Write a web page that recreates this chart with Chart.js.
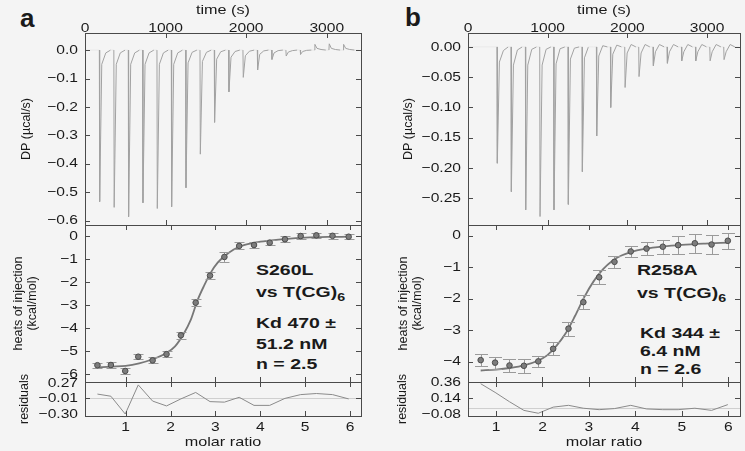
<!DOCTYPE html>
<html>
<head>
<meta charset="utf-8">
<script src="https://cdn.jsdelivr.net/npm/chart.js@4.4.1/dist/chart.umd.min.js"></script>
<style>
  body { margin: 0; background: #f4f4f4; width: 745px; height: 451px; position: relative; overflow: hidden;
         font-family: "Liberation Sans", Arial, sans-serif; color: #1a1a1a; }
  .box { position: absolute; }
  .tag { position: absolute; font-weight: bold; font-size: 26px; line-height: 26px; }
  .note { position: absolute; font-weight: bold; font-size: 15px; line-height: 15px; white-space: nowrap;
          transform: scaleX(1.3); transform-origin: 0 0; }
  .note sub { font-size: 11px; vertical-align: -4px; line-height: 0; }
</style>
</head>
<body>
<div class="tag" style="left:20px;top:5px">a</div>
<div class="tag" style="left:405px;top:4px">b</div>

<div class="note" style="left:256px;top:262px">S260L</div>
<div class="note" style="left:256px;top:284px">vs T(CG)<sub>6</sub></div>
<div class="note" style="left:256px;top:315px">Kd 470 ±</div>
<div class="note" style="left:256px;top:336px">51.2 nM</div>
<div class="note" style="left:256px;top:356px">n = 2.5</div>

<div class="note" style="left:637px;top:262px">R258A</div>
<div class="note" style="left:637px;top:285px">vs T(CG)<sub>6</sub></div>
<div class="note" style="left:640px;top:325px">Kd 344 ±</div>
<div class="note" style="left:640px;top:343px">6.4 nM</div>
<div class="note" style="left:640px;top:361px">n = 2.6</div>

<script>
// ---- 読み取ったデータ ----

// 上段: サーモグラム (注入時刻 s, ピーク値, 戻り途中の値, 落ち着いた値)
const injTimeA = [178, 358, 537, 715, 893, 1071, 1249, 1427, 1604, 1782, 1960, 2138, 2316, 2493, 2671, 2849, 3027, 3205];
const peakA    = [-0.533, -0.553, -0.586, -0.537, -0.557, -0.551, -0.484, -0.366, -0.254, -0.147, -0.096, -0.070, -0.033, -0.021, -0.015, 0.020, 0.022, 0.020];
const recoverA = [-0.05, -0.05, -0.05, -0.05, -0.05, -0.05, -0.045, -0.04, -0.032, -0.025, -0.02, -0.015, -0.01, -0.007, -0.005, 0.006, 0.006, 0.006];
const settleA  = [-0.01, -0.01, -0.01, -0.01, -0.01, -0.01, -0.008, -0.008, -0.006, -0.005, -0.004, -0.003, -0.002, -0.002, -0.001, 0.002, 0.002, 0.002];

const injTimeB = [364, 540, 720, 900, 1075, 1255, 1431, 1611, 1787, 1967, 2142, 2322, 2498, 2678, 2854, 3034, 3209];
const peakB    = [-0.192, -0.239, -0.269, -0.280, -0.269, -0.260, -0.206, -0.147, -0.100, -0.067, -0.049, -0.031, -0.027, -0.023, -0.023, -0.023, -0.021];
const recoverB = [-0.025, -0.03, -0.03, -0.03, -0.028, -0.02, -0.018, -0.015, -0.012, -0.01, -0.01, -0.008, -0.008, -0.008, -0.008, -0.008, -0.008];
const settleB  = [-0.006, -0.005, -0.004, -0.004, -0.003, -0.002, 0.0, 0.002, 0.003, 0.004, 0.004, 0.004, 0.004, 0.004, 0.004, 0.004, 0.004];

// 中段: 注入熱 (kcal/mol) と誤差
const molarA = [0.37, 0.67, 0.99, 1.28, 1.60, 1.91, 2.23, 2.56, 2.88, 3.20, 3.53, 3.86, 4.21, 4.55, 4.90, 5.25, 5.61, 5.97];
const heatA  = [-5.62, -5.61, -5.87, -5.25, -5.41, -5.14, -4.32, -2.90, -1.72, -0.91, -0.43, -0.39, -0.29, -0.14, 0.0, 0.03, 0.01, -0.03];
const errA   = [0.11, 0.11, 0.12, 0.12, 0.13, 0.13, 0.14, 0.15, 0.17, 0.2, 0.15, 0.12, 0.12, 0.12, 0.12, 0.12, 0.12, 0.12];
const fitXA  = [0.37, 0.7, 1.0, 1.3, 1.6, 1.9, 2.1, 2.3, 2.45, 2.6, 2.75, 2.9, 3.05, 3.2, 3.4, 3.6, 3.9, 4.2, 4.6, 5.0, 5.5, 5.97];
const fitYA  = [-5.71, -5.68, -5.65, -5.54, -5.36, -5.1, -4.8, -4.23, -3.65, -2.8, -2.15, -1.58, -1.16, -0.88, -0.6, -0.42, -0.28, -0.2, -0.12, -0.07, -0.04, -0.03];

const molarB = [0.67, 0.98, 1.29, 1.60, 1.91, 2.23, 2.56, 2.88, 3.22, 3.55, 3.90, 4.24, 4.59, 4.92, 5.28, 5.64, 5.99];
const heatB  = [-3.95, -4.03, -4.12, -4.13, -3.99, -3.59, -2.95, -2.11, -1.32, -0.83, -0.50, -0.41, -0.35, -0.30, -0.24, -0.28, -0.16];
const errB   = [0.2, 0.19, 0.2, 0.22, 0.18, 0.2, 0.22, 0.22, 0.22, 0.2, 0.17, 0.2, 0.22, 0.28, 0.3, 0.3, 0.25];
const fitXB  = [0.67, 1.0, 1.3, 1.6, 1.9, 2.1, 2.3, 2.5, 2.7, 2.9, 3.1, 3.3, 3.5, 3.7, 3.9, 4.2, 4.6, 5.0, 5.5, 6.0];
const fitYB  = [-4.28, -4.25, -4.2, -4.12, -3.97, -3.8, -3.5, -3.1, -2.55, -1.95, -1.45, -1.07, -0.8, -0.63, -0.52, -0.42, -0.34, -0.29, -0.25, -0.22];

// 下段: 残差
const resA = [0.07, 0.03, -0.30, 0.24, -0.06, -0.15, -0.02, 0.10, -0.07, -0.08, 0.01, -0.14, -0.14, -0.01, 0.06, 0.08, 0.06, -0.02];
const resB = [0.34, 0.22, 0.09, -0.03, -0.07, 0.015, 0.04, 0.0, -0.02, -0.005, 0.04, -0.01, -0.02, -0.02, 0.0, -0.03, 0.05];

// 目盛り
const timeTicks  = [0, 1000, 2000, 3000];
const molarTicks = [1, 2, 3, 4, 5, 6];
const dpTicksA   = [0, -0.1, -0.2, -0.3, -0.4, -0.5, -0.6];
const dpTicksB   = [0, -0.05, -0.1, -0.15, -0.2, -0.25];
const heatTicksA = [0, -1, -2, -3, -4, -5, -6];
const heatTicksB = [0, -1, -2, -3, -4];
const resTicksA  = [0.27, -0.01, -0.30];
const resTicksB  = [0.36, 0.14, -0.08];

// ---- 共通設定 ----
Chart.defaults.font.family = '"Liberation Sans", Arial, sans-serif';
Chart.defaults.font.size = 13;
Chart.defaults.color = '#1a1a1a';
Chart.defaults.animation = false;
Chart.defaults.plugins.legend.display = false;
Chart.defaults.plugins.tooltip.enabled = false;

const INK = '#4a4a4a';
const TEXT_SX = 1.2; // 横書き文字の横伸ばし

// 枠・内向き目盛り・ゼロ線
const framePlugin = {
  id: 'frame',
  beforeDatasetsDraw(chart, args, o) {
    if (!o.zero) return;
    const {ctx, chartArea: a, scales: {y}} = chart;
    const py = Math.round(y.getPixelForValue(0)) + 0.5;
    ctx.save();
    ctx.strokeStyle = '#cfcfcf';
    ctx.lineWidth = 1;
    ctx.beginPath(); ctx.moveTo(a.left, py); ctx.lineTo(a.right, py); ctx.stroke();
    ctx.restore();
  },
  afterDraw(chart) {
    const {ctx, chartArea: a, scales: {x, y}} = chart;
    ctx.save();
    ctx.strokeStyle = INK;
    ctx.lineWidth = 1;
    ctx.strokeRect(a.left + 0.5, a.top + 0.5, a.right - a.left, a.bottom - a.top);
    ctx.beginPath();
    x.ticks.forEach(t => {
      const px = Math.round(x.getPixelForValue(t.value)) + 0.5;
      if (px < a.left + 2 || px > a.right - 2) return;
      ctx.moveTo(px, a.top); ctx.lineTo(px, a.top + 5);
      ctx.moveTo(px, a.bottom); ctx.lineTo(px, a.bottom - 5);
    });
    y.ticks.forEach(t => {
      const py = Math.round(y.getPixelForValue(t.value)) + 0.5;
      if (py < a.top + 2 || py > a.bottom - 2) return;
      ctx.moveTo(a.left, py); ctx.lineTo(a.left + 5, py);
      ctx.moveTo(a.right, py); ctx.lineTo(a.right - 5, py);
    });
    ctx.stroke();
    ctx.restore();
  }
};

// エラーバー (点の下に描く)
const errPlugin = {
  id: 'errBars',
  beforeDatasetDraw(chart, args) {
    const ds = chart.data.datasets[args.index];
    if (!ds.errs) return;
    const {ctx, scales: {x, y}} = chart;
    ctx.save();
    ctx.strokeStyle = '#9a9a9a';
    ctx.lineWidth = 1;
    ctx.beginPath();
    ds.data.forEach((p, i) => {
      const px = Math.round(x.getPixelForValue(p.x)) + 0.5;
      const y1 = Math.round(y.getPixelForValue(p.y + ds.errs[i])) + 0.5;
      const y2 = Math.round(y.getPixelForValue(p.y - ds.errs[i])) + 0.5;
      ctx.moveTo(px, y1); ctx.lineTo(px, y2);
      ctx.moveTo(px - ds.cap, y1); ctx.lineTo(px + ds.cap, y1);
      ctx.moveTo(px - ds.cap, y2); ctx.lineTo(px + ds.cap, y2);
    });
    ctx.stroke();
    ctx.restore();
  }
};

// 横書きの文字だけ横に伸ばす
const stretchPlugin = {
  id: 'stretchText',
  afterInit(chart) {
    const ctx = chart.ctx;
    const orig = ctx.fillText;
    ctx.fillText = function (t, x, y) {
      const m = this.getTransform();
      if (Math.abs(m.b) > 1e-6) return orig.call(this, t, x, y);
      this.save();
      this.translate(x, y);
      this.scale(TEXT_SX, 1);
      orig.call(this, t, 0, 0);
      this.restore();
    };
  }
};

Chart.register(framePlugin, errPlugin, stretchPlugin);

// ---- ヘルパー ----
const minus = s => s.replace('-', '\u2212');
const fmt = d => v => Math.abs(v) < 1e-9 ? (0).toFixed(d) : minus(v.toFixed(d));
const fixedTicks = list => s => { s.ticks = list.map(v => ({value: v})); };
const zip = (xs, ys) => xs.map((x, i) => ({x, y: ys[i]}));

function trace(times, peaks, rec, settle) {
  const pts = [{x: 0, y: 0}];
  times.forEach((t, i) => {
    pts.push({x: t, y: 0}, {x: t + 4, y: peaks[i]}, {x: t + 30, y: rec[i]},
             {x: t + 80, y: settle[i]}, {x: t + 140, y: 0});
  });
  pts.push({x: 3400, y: 0});
  return pts;
}

function yAxis(min, max, ticks, dec, w, title, tpad, lh) {
  return {
    type: 'linear', position: 'left', min, max,
    afterBuildTicks: fixedTicks(ticks),
    afterFit: s => { s.width = w; s.paddingTop = 0; s.paddingBottom = 0; },
    grid: {display: false, drawTicks: false},
    border: {display: false},
    ticks: {padding: 7, autoSkip: false, callback: fmt(dec)},
    title: {display: true, text: title, padding: {top: tpad, bottom: 0}, font: {size: 12.5, lineHeight: lh || 1.2}}
  };
}

function timeAxis(max) {
  return {
    type: 'linear', position: 'top', min: 0, max,
    afterBuildTicks: fixedTicks(timeTicks),
    afterFit: s => { s.height = 33; s.paddingLeft = 0; s.paddingRight = 0; },
    grid: {display: false, drawTicks: false},
    border: {display: false},
    ticks: {padding: -3, autoSkip: false, maxRotation: 0, callback: v => String(v)},
    title: {display: true, text: 'time (s)', padding: {top: 2, bottom: 0}, font: {size: 13.5}}
  };
}

function molarAxis(min, max, show) {
  return {
    type: 'linear', position: 'bottom', min, max,
    afterBuildTicks: fixedTicks(molarTicks),
    afterFit: s => { s.height = show ? 35 : 0; s.paddingLeft = 0; s.paddingRight = 0; },
    grid: {display: false, drawTicks: false},
    border: {display: false},
    ticks: {display: show, padding: 4, autoSkip: false, maxRotation: 0, callback: v => String(v)},
    title: {display: show, text: 'molar ratio', padding: {top: 0, bottom: 1}, font: {size: 13.5}}
  };
}

function plot(rect, yW, topH, botH, cfg) {
  const m = 10;
  const div = document.createElement('div');
  div.className = 'box';
  div.style.left = (rect.l - yW) + 'px';
  div.style.top = (rect.t - topH - m) + 'px';
  div.style.width = (rect.r - rect.l + yW + 4) + 'px';
  div.style.height = (rect.b - rect.t + topH + botH + 2 * m) + 'px';
  const c = document.createElement('canvas');
  div.appendChild(c);
  document.body.appendChild(div);
  cfg.options.responsive = true;
  cfg.options.maintainAspectRatio = false;
  cfg.options.layout = {autoPadding: false, padding: {left: 0, right: 4, top: m, bottom: m}};
  return new Chart(c, cfg);
}

// 基線 (0 → 0 の区間) はほとんど見えない色にする
const faintBaseline = c => (c.p0.parsed.y === 0 && c.p1.parsed.y === 0) ? '#e9e9e9' : undefined;

function thermo(rect, yW, tmax, data, ymin, ymax, ticks, dec, tpad) {
  plot(rect, yW, 33, 0, {
    type: 'line',
    data: {datasets: [{data, borderColor: '#a2a2a2', borderWidth: 1, pointRadius: 0, tension: 0,
                       segment: {borderColor: faintBaseline}}]},
    options: {scales: {x: timeAxis(tmax), y: yAxis(ymin, ymax, ticks, dec, yW, 'DP (µcal/s)', tpad)}}
  });
}

function heats(rect, yW, xmin, xmax, mx, hy, errs, cap, fx, fy, ymin, ymax, ticks, tpad) {
  plot(rect, yW, 0, 0, {
    type: 'line',
    data: {datasets: [
      {data: zip(mx, hy), errs, cap, showLine: false, pointRadius: 2.8, pointBackgroundColor: '#7c7c7c',
       pointBorderColor: '#4c4c4c', pointBorderWidth: 1},
      {data: zip(fx, fy), borderColor: '#777777', borderWidth: 1.8, pointRadius: 0,
       tension: 0.4, cubicInterpolationMode: 'monotone'}
    ]},
    options: {scales: {x: molarAxis(xmin, xmax, false),
                       y: yAxis(ymin, ymax, ticks, 0, yW, ['heats of injection', '(kcal/mol)'], tpad, 1.15)}}
  });
}

function resid(rect, yW, xmin, xmax, mx, rs, ymin, ymax, ticks, tpad) {
  plot(rect, yW, 0, 35, {
    type: 'line',
    data: {datasets: [{data: zip(mx, rs), borderColor: '#8a8a8a', borderWidth: 1, pointRadius: 0, tension: 0}]},
    options: {
      plugins: {frame: {zero: true}},
      scales: {x: molarAxis(xmin, xmax, true), y: yAxis(ymin, ymax, ticks, 2, yW, 'residuals', tpad)}
    }
  });
}

// ---- パネル a ----
thermo({l: 85, t: 33, r: 361, b: 225}, 85, 3425, trace(injTimeA, peakA, recoverA, settleA),
       -0.615, 0.06, dpTicksA, 1, 19.5);
heats({l: 85, t: 225, r: 361, b: 382}, 85, 0.093, 6.245, molarA, heatA, errA, 5, fitXA, fitYA,
      -6.35, 0.48, heatTicksA, 11);
resid({l: 85, t: 382, r: 361, b: 416}, 85, 0.093, 6.245, molarA, resA, -0.337, 0.294, resTicksA, 17.5);

// ---- パネル b ----
thermo({l: 468, t: 33, r: 740, b: 225}, 98, 3413, trace(injTimeB, peakB, recoverB, settleB),
       -0.294, 0.023, dpTicksB, 2, 31.5);
heats({l: 468, t: 225, r: 740, b: 382}, 98, 0.397, 6.252, molarB, heatB, errB, 6.5, fitXB, fitYB,
      -4.645, 0.34, heatTicksB, 26);
resid({l: 468, t: 382, r: 740, b: 416}, 98, 0.397, 6.252, molarB, resB, -0.108, 0.364, resTicksB, 25.5);
</script>
</body>
</html>
